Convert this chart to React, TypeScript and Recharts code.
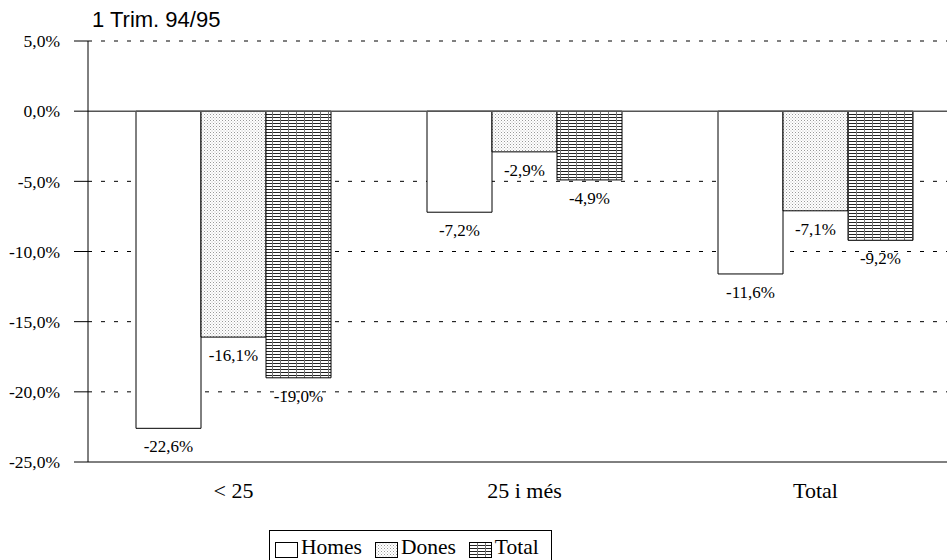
import { BarChart, Bar, XAxis, YAxis, CartesianGrid, ReferenceLine, LabelList } from "recharts"

const categories = ["< 25", "25 i més", "Total"]
const homes = [-22.6, -7.2, -11.6]
const dones = [-16.1, -2.9, -7.1]
const total = [-19.0, -4.9, -9.2]
const yTicks = [5, 0, -5, -10, -15, -20, -25]

const data = categories.map((c, i) => ({ cat: c, Homes: homes[i], Dones: dones[i], Total: total[i] }))

const serif = "'Liberation Serif', 'Times New Roman', serif"
const fmt = (v: number) => `${v.toFixed(1).replace(".", ",")}%`

// value label sits under the end of each (negative) bar
const BelowLabel = (props: any) => {
  const { x, y, width, height, value } = props
  const bottom = Math.max(Number(y), Number(y) + Number(height))
  return (
    <text x={Number(x) + Number(width) / 2} y={bottom + 24} textAnchor="middle" fontFamily={serif} fontSize={17} fill="#000">
      {fmt(value)}
    </text>
  )
}

const Patterns = ({ prefix }: { prefix: string }) => (
  <defs>
    <pattern id={`${prefix}dots`} width={3} height={3} patternUnits="userSpaceOnUse">
      <rect width={3} height={3} fill="#fff" />
      <rect x={0} y={0} width={1} height={1} fill="#999" />
      <rect x={1.5} y={1.5} width={1} height={1} fill="#bbb" />
    </pattern>
    <pattern id={`${prefix}lines`} width={8} height={3} patternUnits="userSpaceOnUse">
      <rect width={8} height={3} fill="#fff" />
      <rect x={0} y={0} width={8} height={1} fill="#222" />
      <rect x={0} y={0} width={1} height={3} fill="#777" />
    </pattern>
  </defs>
)

function Swatch({ fill }: { fill: string }) {
  return (
    <svg width={23} height={16} style={{ display: "block" }}>
      <Patterns prefix="lg-" />
      <rect x={0.5} y={0.5} width={22} height={15} fill={fill} stroke="#000" />
    </svg>
  )
}

const legendItems = [
  { name: "Homes", fill: "#fff" },
  { name: "Dones", fill: "url(#lg-dots)" },
  { name: "Total", fill: "url(#lg-lines)" },
]

export default function App() {
  return (
    <div style={{ position: "absolute", left: 0, top: 0, width: 947, height: 560, overflow: "hidden", background: "#fff" }}>
      <div style={{ position: "absolute", left: 92, top: 8, fontFamily: "'Liberation Sans', Arial, sans-serif", fontSize: 22, lineHeight: "24px" }}>
        1 Trim. 94/95
      </div>
      <BarChart
        width={961}
        height={560}
        data={data}
        margin={{ top: 41, right: 0, bottom: 68, left: 0 }}
        barCategoryGap={48}
        barGap={0}
      >
        <Patterns prefix="" />
        <CartesianGrid vertical={false} stroke="#000" strokeDasharray="4 9" horizontalValues={[5, -5, -10, -15, -20]} />
        <XAxis
          dataKey="cat"
          axisLine={{ stroke: "#000" }}
          tickLine={false}
          tickSize={6}
          tickMargin={14}
          tick={{ fontFamily: serif, fontSize: 22, fill: "#000" }}
        />
        <YAxis
          domain={[-25, 5]}
          ticks={yTicks}
          width={88}
          axisLine={{ stroke: "#000" }}
          tickLine={{ stroke: "#000" }}
          tickSize={14}
          tickMargin={14}
          tickFormatter={fmt}
          tick={{ fontFamily: serif, fontSize: 17.5, fill: "#000" }}
        />
        <ReferenceLine y={0} stroke="#555" strokeWidth={1.5} />
        <Bar dataKey="Homes" fill="#fff" stroke="#000" isAnimationActive={false}>
          <LabelList dataKey="Homes" content={BelowLabel} />
        </Bar>
        <Bar dataKey="Dones" fill="url(#dots)" stroke="#000" isAnimationActive={false}>
          <LabelList dataKey="Dones" content={BelowLabel} />
        </Bar>
        <Bar dataKey="Total" fill="url(#lines)" stroke="#000" isAnimationActive={false}>
          <LabelList dataKey="Total" content={BelowLabel} />
        </Bar>
      </BarChart>
      <div
        style={{
          position: "absolute",
          left: 269,
          top: 530,
          width: 283,
          height: 40,
          border: "1px solid #000",
          boxSizing: "border-box",
          fontFamily: serif,
          fontSize: 21.5,
          display: "flex",
          alignItems: "flex-start",
          paddingLeft: 5,
          paddingTop: 4,
          whiteSpace: "nowrap",
        }}
      >
        {legendItems.map((it, i) => (
          <div key={it.name} style={{ display: "flex", alignItems: "center", marginRight: i < 2 ? 13 : 0 }}>
            <div style={{ marginTop: 5, marginRight: 3 }}>
              <Swatch fill={it.fill} />
            </div>
            <span style={{ lineHeight: "24px" }}>{it.name}</span>
          </div>
        ))}
      </div>
    </div>
  )
}
